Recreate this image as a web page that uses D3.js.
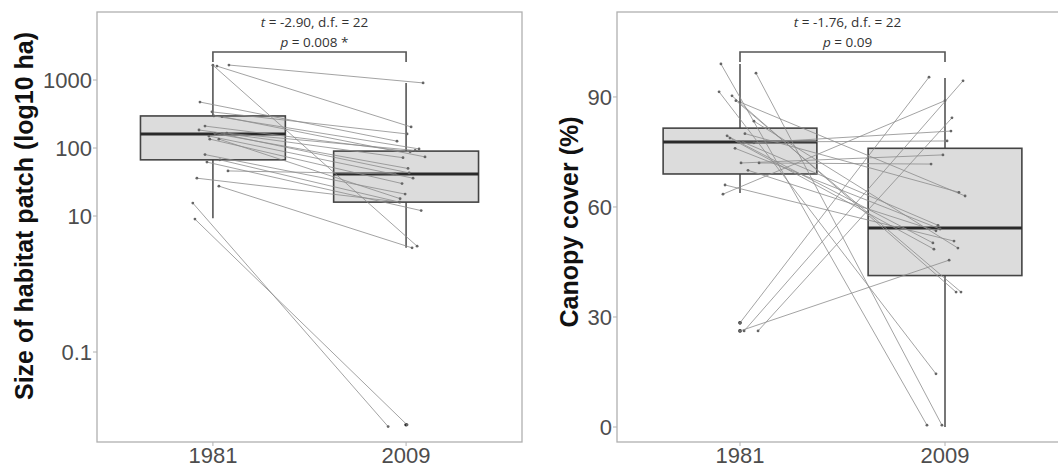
<!DOCTYPE html>
<html>
<head>
<meta charset="utf-8">
<script src="https://cdn.jsdelivr.net/npm/d3@7"></script>
<style>
  body { margin: 0; background: #fff; }
  svg { display: block; font-family: "Liberation Sans", Arial, sans-serif; }
</style>
</head>
<body>
<div id="chart"></div>
<script>
// categories
const years = ["1981", "2009"];

// habitat patch size (ha), paired sites, 1981 -> 2009
const patch1981 = [1660, 1650, 1600, 474, 340, 296, 290, 210, 184, 165, 163, 161, 150, 135, 135, 80, 67, 62, 46, 36, 27.5, 15.5, 9];
const patch2009 = [906, 3.6, 204, 126, 161, 97, 74, 88, 72, 92, 50, 43, 36, 30, 18, 21, 16, 12, 41.5, 16, 3.4, 0.008, 0.0085];
// horizontal jitter (category units)
const patchJit1981 = [0.083, 0, 0.021, -0.067, -0.005, 0.005, 0.047, -0.041, -0.072, 0.072, 0.010, 0.047, -0.021, -0.016, 0.031, -0.041, 0.036, -0.031, 0.078, -0.083, 0.031, -0.104, -0.093];
const patchJit2009 = [0.088, 0.057, 0.026, -0.047, 0.005, 0.067, 0.098, 0.021, -0.016, 0.047, 0.010, 0.016, 0.036, -0.021, -0.031, -0.005, -0.036, 0.078, -0.057, -0.031, 0.031, -0.093, 0.005];
// box statistics per year
const patchLow = [9.3, 3.4];
const patchQ1 = [67, 16];
const patchMed = [161, 41.5];
const patchQ3 = [296, 90];
const patchHigh = [1660, 906];
const patchOutliers = [[], [0.0085]];
const patchTicks = [0.1, 10, 100, 1000];

// canopy cover (%), paired sites
const canopy1981 = [99, 96.5, 91.4, 90.3, 89, 88.6, 83.4, 80, 79.4, 78.8, 77.7, 77.7, 77.5, 76, 72, 72, 70, 66, 63.5, 28.4, 26.2, 26.2, 26.2];
const canopy2009 = [0.5, 0.5, 14.5, 36.8, 36.8, 63, 48.8, 64, 50.2, 48.5, 78, 55, 80.7, 54, 74.2, 71.7, 53.5, 50.7, 89, 95.4, 45.5, 94.4, 84.3];
const canopyJit1981 = [-0.093, 0.078, -0.102, -0.039, -0.020, 0, 0.068, 0.024, -0.063, -0.049, -0.005, 0.015, 0.068, -0.024, 0.005, 0.093, 0.039, -0.073, -0.083, 0, 0, 0.020, 0.088];
const canopyJit2009 = [-0.088, -0.015, -0.044, 0.054, 0.078, 0.098, 0.063, 0.068, -0.059, -0.054, 0.010, -0.034, 0.029, -0.024, -0.010, -0.068, -0.044, 0.044, 0, -0.078, 0.020, 0.088, 0.034];
const canopyLow = [63.8, 0];
const canopyQ1 = [69, 41.3];
const canopyMed = [77.7, 54.3];
const canopyQ3 = [81.5, 76];
const canopyHigh = [99, 95.2];
const canopyOutliers = [[28.4, 26.2], []];
const canopyTicks = [0, 30, 60, 90];

// t-test annotation
const patchStat = { t: "-2.90", df: "22", p: "0.008", star: true };
const canopyStat = { t: "-1.76", df: "22", p: "0.09", star: false };

const W = 1058, H = 468;
const svg = d3.select("#chart").append("svg").attr("width", W).attr("height", H);

function drawPanel(o)
{
    let g = svg.append("g");
    let x = d3.scaleLinear().domain([0.4, 2.6]).range([o.left, o.right]);
    let y = o.y;
    let top = 12, bottom = 442;

    g.append("rect")
    .attr("x", o.left).attr("y", top)
    .attr("width", o.right - o.left).attr("height", bottom - top)
    .attr("fill", "white").attr("stroke", "#b0b0b0").attr("stroke-width", 1.3);

    // y axis ticks + labels
    o.ticks.forEach(t => {
        g.append("line")
        .attr("x1", o.left - 4).attr("x2", o.left)
        .attr("y1", y(t)).attr("y2", y(t))
        .attr("stroke", "#b0b0b0").attr("stroke-width", 1);
        g.append("text")
        .attr("x", o.left - 5).attr("y", y(t))
        .attr("dy", "0.36em")
        .attr("text-anchor", "end")
        .attr("fill", "#4d4d4d")
        .style("font-size", "22px")
        .text(o.fmt(t));
    });

    // x axis ticks + labels
    years.forEach((yr, i) => {
        g.append("line")
        .attr("x1", x(i + 1)).attr("x2", x(i + 1))
        .attr("y1", bottom).attr("y2", bottom + 4)
        .attr("stroke", "#b0b0b0");
        g.append("text")
        .attr("x", x(i + 1)).attr("y", 463)
        .attr("text-anchor", "middle")
        .attr("fill", "#4d4d4d")
        .style("font-size", "22px")
        .text(yr);
    });

    // y title
    g.append("text")
    .attr("transform", "translate(" + o.titleX + "," + o.titleY + ") rotate(-90)")
    .attr("text-anchor", "middle")
    .attr("fill", "#111")
    .style("font-size", "25px")
    .style("font-weight", "bold")
    .text(o.title);

    // boxes
    let bw = 0.375;
    years.forEach((yr, i) => {
        let c = i + 1;
        g.append("line")
        .attr("x1", x(c)).attr("x2", x(c))
        .attr("y1", y(o.high[i])).attr("y2", y(o.q3[i]))
        .attr("stroke", "#555").attr("stroke-width", 1.6);
        g.append("line")
        .attr("x1", x(c)).attr("x2", x(c))
        .attr("y1", y(o.q1[i])).attr("y2", y(o.low[i]))
        .attr("stroke", "#555").attr("stroke-width", 1.6);
        g.append("rect")
        .attr("x", x(c - bw)).attr("y", y(o.q3[i]))
        .attr("width", x(c + bw) - x(c - bw))
        .attr("height", y(o.q1[i]) - y(o.q3[i]))
        .attr("fill", "#dcdcdc").attr("stroke", "#444").attr("stroke-width", 1.6);
        g.append("line")
        .attr("x1", x(c - bw)).attr("x2", x(c + bw))
        .attr("y1", y(o.med[i])).attr("y2", y(o.med[i]))
        .attr("stroke", "#2a2a2a").attr("stroke-width", 3);
        o.out[i].forEach(v => {
            g.append("circle")
            .attr("cx", x(c)).attr("cy", y(v)).attr("r", 1.8)
            .attr("fill", "#222");
        });
    });

    // paired lines
    let pairs = o.a.map((v, i) => ({ a: v, b: o.b[i], ja: o.ja[i], jb: o.jb[i] }));
    g.selectAll("line.pair")
    .data(pairs)
    .enter()
    .append("line")
    .attr("class", "pair")
    .attr("x1", d => x(1 + d.ja)).attr("y1", d => y(d.a))
    .attr("x2", d => x(2 + d.jb)).attr("y2", d => y(d.b))
    .attr("stroke", "#8c8c8c").attr("stroke-width", 0.8);

    let pts = [];
    pairs.forEach(d => { pts.push([1 + d.ja, d.a]); pts.push([2 + d.jb, d.b]); });
    g.selectAll("circle.pt")
    .data(pts)
    .enter()
    .append("circle")
    .attr("class", "pt")
    .attr("cx", d => x(d[0])).attr("cy", d => y(d[1]))
    .attr("r", 1.4)
    .attr("fill", "#666");

    // significance bracket
    let by = 52;
    g.append("path")
    .attr("d", "M" + x(1) + "," + (by + 10) + "V" + by + "H" + x(2) + "V" + (by + 10))
    .attr("fill", "none").attr("stroke", "#555").attr("stroke-width", 1.6);

    let cx = (x(1) + x(2)) / 2 + 5;
    let t1 = g.append("text")
    .attr("x", cx).attr("y", 27)
    .attr("text-anchor", "middle")
    .attr("fill", "#333")
    .style("font-family", "'Open Sans', sans-serif")
    .style("font-size", "13.5px");
    t1.append("tspan").style("font-style", "italic").text("t");
    t1.append("tspan").text(" = " + o.stat.t + ", d.f. = " + o.stat.df);

    let t2 = g.append("text")
    .attr("x", cx).attr("y", 47)
    .attr("text-anchor", "middle")
    .attr("fill", "#333")
    .style("font-family", "'Open Sans', sans-serif")
    .style("font-size", "13.5px");
    t2.append("tspan").style("font-style", "italic").text("p");
    t2.append("tspan").text(" = " + o.stat.p + (o.stat.star ? " *" : ""));
}

drawPanel({
    left: 97, right: 522,
    y: d3.scaleLog().domain([Math.pow(10, -2.3235), 10000]).range([442, 12]),
    ticks: patchTicks,
    fmt: d => String(d),
    title: "Size of habitat patch (log10 ha)",
    titleX: 33, titleY: 216,
    a: patch1981, b: patch2009, ja: patchJit1981, jb: patchJit2009,
    low: patchLow, q1: patchQ1, med: patchMed, q3: patchQ3, high: patchHigh,
    out: patchOutliers,
    stat: patchStat
});

drawPanel({
    left: 617, right: 1068,
    y: d3.scaleLinear().domain([-4.09, 113.17]).range([442, 12]),
    ticks: canopyTicks,
    fmt: d => String(d),
    title: "Canopy cover (%)",
    titleX: 578, titleY: 222,
    a: canopy1981, b: canopy2009, ja: canopyJit1981, jb: canopyJit2009,
    low: canopyLow, q1: canopyQ1, med: canopyMed, q3: canopyQ3, high: canopyHigh,
    out: canopyOutliers,
    stat: canopyStat
});
</script>
</body>
</html>
